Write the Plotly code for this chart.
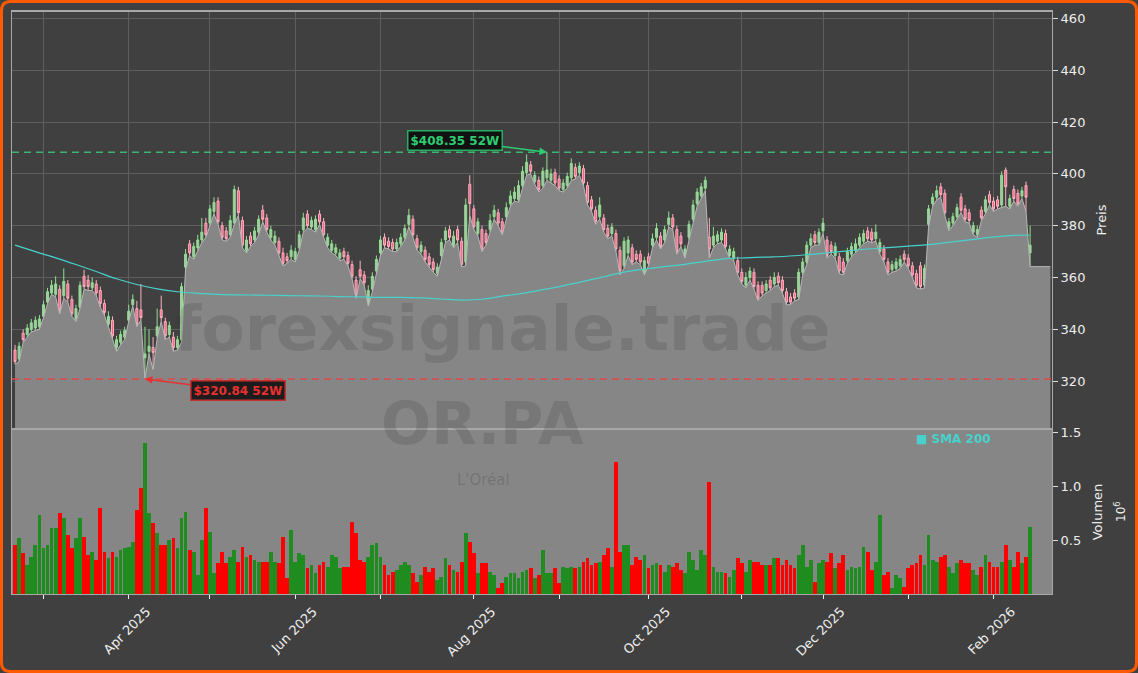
import pandas as pd
import plotly.graph_objects as go

# ---------------- data ----------------
holidays = ["2025-04-18", "2025-04-21", "2025-05-01", "2025-12-25", "2025-12-26", "2026-01-01"]
dates = [d.strftime("%Y-%m-%d") for d in
         pd.bdate_range("2025-02-20", "2026-02-13", freq="C", holidays=holidays)]
tail_dates = ["2026-02-16", "2026-02-17", "2026-02-18", "2026-02-19", "2026-02-20"]
tail_low = [364.2, 364.2, 364.2, 364.2, 364.2]

opens = [332.0, 328.5, 338.5, 338.0, 340.0, 340.5, 341.0, 345.0, 350.5, 354.0,
         353.5, 355.5, 353.0, 357.5, 351.5, 344.0, 348.5, 360.5, 359.0, 356.0,
         357.5, 355.0, 350.0, 342.0, 343.5, 333.0, 335.0, 337.0, 343.5, 349.5,
         348.0, 347.5, 329.0, 331.5, 333.0, 337.5, 347.5, 343.0, 338.0, 337.0,
         333.0, 336.0, 364.0, 373.0, 368.0, 371.5, 374.5, 381.0, 381.0, 385.5,
         389.5, 380.0, 378.0, 376.5, 381.0, 393.5, 382.0, 370.5, 376.0, 374.5,
         377.5, 386.0, 383.0, 375.5, 373.5, 374.0, 369.5, 368.0, 368.0, 367.0,
         371.5, 378.5, 384.5, 379.5, 378.5, 384.5, 381.5, 372.5, 370.5, 369.5,
         367.5, 370.0, 368.5, 365.0, 359.0, 363.0, 361.0, 350.0, 355.5, 362.5,
         369.5, 375.5, 374.0, 373.5, 371.0, 373.0, 375.5, 380.5, 382.5, 375.0,
         370.0, 370.5, 368.0, 366.0, 361.5, 368.5, 374.5, 378.5, 372.5, 378.5,
         374.0, 366.0, 396.0, 386.5, 377.0, 378.5, 377.0, 378.5, 383.5, 385.0,
         381.5, 383.5, 388.5, 390.5, 390.0, 395.5, 400.5, 403.5, 397.0, 397.5,
         395.5, 398.5, 397.5, 400.5, 398.0, 394.0, 395.5, 398.5, 402.5, 400.5,
         402.0, 395.5, 390.0, 386.0, 383.5, 383.0, 379.0, 377.0, 377.0, 370.5,
         364.5, 369.5, 371.5, 369.0, 369.0, 362.0, 368.0, 372.5, 375.5, 376.0,
         374.5, 380.5, 383.0, 378.5, 376.0, 368.5, 375.5, 382.5, 388.5, 391.5,
         394.5, 375.5, 372.5, 374.0, 374.5, 377.0, 368.5, 367.5, 366.5, 362.0,
         357.0, 360.0, 362.0, 357.0, 357.0, 355.0, 359.0, 357.5, 360.5, 359.0,
         354.5, 352.5, 354.0, 352.5, 362.0, 366.0, 372.5, 376.5, 373.5, 378.0,
         374.5, 372.5, 368.5, 368.0, 366.0, 366.5, 369.0, 370.5, 372.5, 374.0,
         378.0, 377.5, 375.0, 370.0, 371.0, 366.0, 363.0, 363.5, 364.5, 369.0,
         367.5, 364.5, 361.5, 364.5, 357.0, 380.5, 388.5, 391.0, 395.0, 392.5,
         379.0, 381.0, 383.5, 391.0, 386.5, 385.0, 377.5, 376.5, 386.0, 385.5,
         392.0, 389.5, 390.0, 388.0, 401.5, 387.5, 394.0, 392.5, 391.5, 395.5,
         369.5]

highs = [334.0, 335.0, 340.0, 342.0, 344.0, 345.0, 345.5, 351.0, 356.0, 359.0,
         360.5, 357.0, 363.5, 359.0, 353.0, 349.5, 358.5, 363.0, 361.0, 360.0,
         359.0, 356.5, 351.5, 347.0, 345.0, 337.5, 339.5, 341.0, 349.5, 353.5,
         351.0, 357.5, 341.0, 340.0, 337.0, 348.0, 353.0, 344.5, 343.0, 339.0,
         337.5, 358.0, 371.0, 374.5, 373.5, 376.5, 383.0, 383.0, 388.0, 391.0,
         391.0, 381.5, 379.5, 384.0, 395.5, 395.0, 383.5, 376.0, 377.5, 379.5,
         384.0, 388.0, 384.5, 380.0, 378.0, 375.5, 371.5, 369.5, 372.5, 371.5,
         378.0, 385.0, 386.0, 383.5, 384.0, 386.0, 383.0, 377.0, 374.5, 373.0,
         371.0, 371.5, 370.0, 366.5, 360.5, 366.5, 362.5, 357.0, 362.0, 368.5,
         376.0, 377.0, 375.5, 375.0, 375.0, 377.0, 380.5, 386.5, 384.0, 376.5,
         374.0, 372.0, 369.5, 367.5, 365.5, 375.0, 379.5, 380.0, 378.0, 380.0,
         375.5, 390.5, 399.5, 388.0, 383.0, 380.0, 378.5, 384.5, 388.0, 386.5,
         383.0, 389.0, 393.5, 395.0, 397.5, 403.0, 407.5, 405.0, 401.0, 399.0,
         402.5, 408.35, 402.0, 402.0, 399.5, 398.0, 400.5, 406.0, 404.0, 404.5,
         403.5, 397.0, 391.5, 387.5, 391.0, 384.5, 380.5, 381.0, 378.5, 372.0,
         375.5, 376.0, 373.0, 370.5, 370.5, 368.0, 369.5, 377.0, 381.0, 377.5,
         380.0, 385.5, 384.5, 380.0, 377.5, 372.5, 382.0, 390.0, 394.5, 396.5,
         399.0, 383.0, 379.5, 378.0, 379.0, 378.5, 372.5, 371.5, 368.0, 363.5,
         362.0, 364.0, 363.5, 358.5, 358.5, 359.0, 360.5, 362.0, 362.0, 360.5,
         356.0, 354.0, 355.5, 363.5, 367.5, 374.0, 377.0, 378.0, 379.0, 383.0,
         376.0, 374.0, 373.5, 369.5, 367.5, 371.5, 373.5, 375.0, 377.0, 378.5,
         379.5, 379.0, 380.5, 375.0, 372.5, 367.5, 366.5, 367.5, 368.5, 370.5,
         369.0, 366.0, 363.0, 366.0, 365.0, 388.0, 392.5, 395.5, 396.5, 394.0,
         383.0, 385.0, 388.5, 392.5, 388.0, 386.5, 381.5, 380.0, 387.5, 391.5,
         393.5, 391.0, 391.5, 401.0, 402.5, 392.0, 395.5, 394.0, 395.0, 397.0,
         380.0]

lows = [326.5, 327.5, 335.0, 337.0, 339.0, 339.5, 340.0, 344.5, 350.0, 353.5,
        352.5, 346.0, 352.0, 350.5, 345.0, 343.0, 348.0, 355.5, 355.0, 355.0,
        353.0, 348.5, 345.5, 341.0, 336.5, 331.5, 334.0, 336.0, 343.0, 349.0,
        341.0, 343.5, 320.84, 330.5, 324.5, 336.5, 343.0, 336.0, 337.0, 331.5,
        332.0, 335.0, 363.0, 368.5, 367.0, 370.5, 373.5, 375.5, 380.0, 384.5,
        380.5, 374.5, 374.0, 375.5, 380.5, 384.0, 371.5, 369.5, 372.0, 373.5,
        376.5, 381.5, 377.5, 374.5, 372.5, 368.5, 364.5, 365.5, 367.0, 366.0,
        370.5, 377.5, 379.0, 378.5, 377.5, 380.5, 375.5, 371.5, 369.5, 368.5,
        366.5, 367.0, 364.5, 359.5, 352.0, 359.5, 357.0, 349.0, 354.5, 361.5,
        368.5, 371.5, 371.0, 370.0, 370.0, 372.0, 374.5, 379.5, 375.5, 370.5,
        369.0, 366.0, 364.0, 362.0, 360.5, 367.5, 373.5, 374.5, 371.5, 373.5,
        364.0, 364.5, 384.0, 378.5, 376.0, 370.0, 372.5, 377.5, 382.5, 380.0,
        376.5, 382.5, 387.5, 389.5, 389.0, 394.5, 399.5, 400.0, 396.0, 393.0,
        394.5, 397.5, 396.5, 395.5, 393.5, 393.0, 394.5, 397.5, 398.0, 399.5,
        395.5, 388.0, 385.5, 380.5, 382.5, 377.5, 375.0, 376.0, 370.0, 361.0,
        363.5, 368.5, 365.0, 366.0, 365.0, 361.0, 364.5, 371.5, 374.5, 371.0,
        373.5, 379.5, 378.5, 369.0, 372.0, 367.5, 374.5, 381.5, 387.5, 390.5,
        393.5, 367.5, 371.5, 373.0, 373.5, 371.0, 367.5, 366.5, 361.0, 357.5,
        356.0, 359.0, 355.5, 351.0, 353.0, 354.0, 355.0, 356.5, 357.0, 354.0,
        349.5, 349.5, 351.0, 351.5, 361.0, 365.0, 371.5, 372.5, 372.5, 377.0,
        367.5, 369.0, 367.5, 361.5, 361.0, 365.5, 368.0, 369.5, 371.5, 373.0,
        374.0, 373.5, 374.0, 369.0, 366.0, 361.0, 362.0, 362.5, 363.5, 366.0,
        363.5, 360.0, 356.0, 355.5, 356.0, 379.5, 387.5, 390.0, 391.0, 384.0,
        378.0, 380.0, 382.5, 385.0, 381.5, 381.0, 376.5, 375.5, 382.0, 384.5,
        388.0, 385.5, 386.5, 387.0, 387.5, 386.5, 389.5, 387.5, 390.5, 385.5,
        364.2]

closes = [327.5, 333.5, 336.0, 340.5, 342.5, 343.5, 344.0, 349.5, 354.5, 357.0,
          357.5, 347.5, 358.5, 352.0, 346.0, 348.0, 357.0, 356.5, 356.5, 358.0,
          354.0, 350.0, 346.5, 345.0, 337.5, 336.0, 338.0, 339.5, 347.0, 351.5,
          342.0, 344.5, 330.5, 333.5, 331.0, 341.0, 344.5, 337.5, 341.5, 333.0,
          336.0, 356.5, 369.0, 369.5, 372.0, 374.5, 377.5, 376.5, 386.5, 389.0,
          381.5, 375.5, 375.0, 382.0, 394.0, 385.0, 372.5, 374.5, 373.0, 378.0,
          382.5, 382.5, 378.5, 378.5, 376.0, 369.5, 365.5, 366.5, 370.5, 370.0,
          376.5, 383.0, 380.0, 382.0, 382.5, 381.5, 376.5, 375.5, 373.0, 371.5,
          369.5, 368.0, 365.5, 360.5, 353.5, 360.5, 358.0, 355.0, 360.5, 367.0,
          374.5, 372.5, 372.0, 371.0, 373.5, 375.5, 379.0, 384.0, 376.5, 371.5,
          372.5, 367.0, 365.0, 363.0, 364.0, 373.5, 378.0, 375.5, 376.0, 374.5,
          365.0, 388.0, 388.5, 379.5, 381.5, 371.0, 373.5, 382.0, 386.0, 381.0,
          377.5, 387.0, 391.5, 393.0, 395.5, 401.0, 404.5, 401.0, 399.5, 394.0,
          401.0, 401.5, 400.0, 396.5, 394.5, 396.5, 399.0, 404.0, 399.0, 403.0,
          396.5, 389.0, 386.5, 381.5, 388.0, 378.5, 376.0, 379.5, 371.0, 362.5,
          374.0, 374.5, 366.0, 367.0, 366.0, 366.5, 365.5, 375.0, 379.0, 372.0,
          378.5, 383.0, 379.5, 370.0, 373.0, 371.0, 380.5, 388.0, 393.0, 395.0,
          397.5, 371.0, 376.0, 376.5, 377.5, 372.0, 371.0, 370.0, 362.0, 358.5,
          360.0, 362.5, 356.5, 352.0, 354.0, 357.5, 356.0, 360.0, 358.0, 355.0,
          350.5, 350.5, 352.0, 362.0, 366.0, 372.5, 375.0, 373.5, 377.5, 381.0,
          368.5, 370.0, 372.0, 362.5, 362.0, 370.0, 372.0, 373.0, 375.5, 377.0,
          375.0, 374.5, 377.5, 373.5, 367.0, 362.0, 365.0, 366.0, 367.0, 367.0,
          364.5, 361.0, 357.0, 356.5, 363.5, 386.5, 391.0, 393.5, 392.0, 385.0,
          381.5, 383.5, 387.0, 386.0, 382.5, 382.0, 380.0, 378.5, 383.0, 390.0,
          389.0, 386.5, 387.5, 399.5, 395.0, 390.5, 390.5, 388.5, 393.5, 391.0,
          372.5]

volume_m = [0.463, 0.524, 0.386, 0.279, 0.355, 0.463, 0.739, 0.432, 0.463, 0.616,
            0.616, 0.754, 0.708, 0.555, 0.432, 0.524, 0.708, 0.539, 0.371, 0.401,
            0.325, 0.800, 0.401, 0.340, 0.401, 0.355, 0.417, 0.432, 0.447, 0.493,
            0.785, 0.984, 1.398, 0.754, 0.662, 0.570, 0.463, 0.463, 0.509, 0.524,
            0.432, 0.708, 0.769, 0.417, 0.401, 0.187, 0.509, 0.800, 0.585, 0.202,
            0.294, 0.401, 0.294, 0.355, 0.417, 0.309, 0.447, 0.355, 0.371, 0.325,
            0.309, 0.309, 0.309, 0.401, 0.309, 0.294, 0.539, 0.156, 0.601, 0.309,
            0.386, 0.371, 0.248, 0.279, 0.202, 0.279, 0.309, 0.263, 0.371, 0.355,
            0.248, 0.263, 0.263, 0.677, 0.570, 0.325, 0.309, 0.355, 0.463, 0.478,
            0.355, 0.279, 0.187, 0.217, 0.233, 0.279, 0.309, 0.279, 0.202, 0.125,
            0.187, 0.263, 0.217, 0.248, 0.141, 0.171, 0.340, 0.279, 0.233, 0.217,
            0.309, 0.570, 0.493, 0.386, 0.202, 0.294, 0.294, 0.217, 0.187, 0.064,
            0.110, 0.171, 0.202, 0.202, 0.156, 0.217, 0.233, 0.248, 0.156, 0.187,
            0.417, 0.202, 0.202, 0.248, 0.110, 0.263, 0.248, 0.263, 0.248, 0.263,
            0.309, 0.340, 0.279, 0.294, 0.309, 0.371, 0.432, 0.263, 1.229, 0.401,
            0.463, 0.463, 0.279, 0.355, 0.325, 0.371, 0.248, 0.279, 0.294, 0.279,
            0.217, 0.279, 0.263, 0.294, 0.233, 0.202, 0.401, 0.325, 0.233, 0.417,
            0.371, 1.045, 0.263, 0.217, 0.217, 0.202, 0.171, 0.233, 0.340, 0.294,
            0.217, 0.325, 0.309, 0.309, 0.279, 0.279, 0.279, 0.340, 0.340, 0.279,
            0.325, 0.279, 0.248, 0.371, 0.463, 0.263, 0.325, 0.125, 0.294, 0.325,
            0.309, 0.386, 0.248, 0.294, 0.371, 0.233, 0.263, 0.248, 0.263, 0.447,
            0.401, 0.233, 0.309, 0.739, 0.187, 0.217, 0.064, 0.187, 0.156, 0.079,
            0.248, 0.279, 0.294, 0.371, 0.279, 0.555, 0.325, 0.309, 0.355, 0.371,
            0.263, 0.202, 0.294, 0.325, 0.294, 0.294, 0.233, 0.187, 0.263, 0.371,
            0.309, 0.263, 0.263, 0.309, 0.463, 0.325, 0.263, 0.401, 0.294, 0.355,
            0.631]

sma_idx = list(range(0, 251, 5))
sma200 = [372.5, 370.0, 367.6, 365.0, 362.3, 359.5, 357.3, 355.6, 354.5, 353.9,
          353.5, 353.3, 353.2, 353.1, 352.95, 352.85, 352.65, 352.5, 352.3, 352.3,
          352.1, 351.7, 351.3, 351.6, 352.8, 353.9, 355.3, 356.8, 358.5, 360.3,
          362.1, 363.2, 364.2, 365.1, 366.2, 367.3, 367.6, 367.9, 368.2, 368.8,
          369.5, 370.3, 371.0, 371.5, 372.1, 372.7, 373.6, 374.5, 375.5, 376.2,
          376.4]

high_52w = 408.35
low_52w = 320.84
high_idx = 131
low_idx = 32

month_labels = ["", "Apr 2025", "", "Jun 2025", "", "Aug 2025", "", "Oct 2025",
                "", "Dec 2025", "", "Feb 2026"]

# ---------------- layout helpers ----------------
W, H = 1138, 673
ML, MR, MT, MB = 12, 86, 12, 79
PW, PH = W - ML - MR, H - MT - MB


def px(x):
    return (x - ML) / PW


def py(y):
    return (H - MB - y) / PH


BG = "#404040"
FILL = "#868686"
TXT = "#eeeeee"
FONT = "DejaVu Sans"

sma_dates = [dates[i] for i in sma_idx]
month_firsts = []
seen = set()
for d in dates:
    key = d[:7]
    if key not in seen and key >= "2025-03":
        seen.add(key)
        month_firsts.append(d)

vol_colors = ["#1f8c1f" if c >= o else "#ff0000" for o, c in zip(opens, closes)]
candle_style = dict(
    increasing=dict(line=dict(color="#8fe08f", width=1), fillcolor="rgba(215,235,215,0.75)"),
    decreasing=dict(line=dict(color="#ffb0c0", width=1), fillcolor="#f0607f"),
)

fig = go.Figure()

fig.add_trace(go.Scatter(
    x=dates[:-1] + [dates[-1]] + tail_dates, y=lows + tail_low,
    xaxis="x", yaxis="y", mode="lines", fill="tozeroy",
    line=dict(color="#b8b8b8", width=1), fillcolor=FILL,
    showlegend=False, hoverinfo="skip"))

fig.add_trace(go.Candlestick(
    x=dates, open=opens, high=highs, low=lows, close=closes,
    xaxis="x", yaxis="y", whiskerwidth=0, showlegend=False, name="OR.PA",
    **candle_style))

fig.add_trace(go.Scatter(
    x=sma_dates, y=sma200, xaxis="x", yaxis="y", mode="lines",
    line=dict(color="#48d1cc", width=1.2, shape="spline"), name="SMA 200", showlegend=False))

fig.add_trace(go.Bar(
    x=dates, y=volume_m, xaxis="x2", yaxis="y2",
    marker=dict(color=vol_colors, line=dict(width=0)), width=0.92, showlegend=False))

xr = [-0.75, 255.4]
fig.update_layout(
    width=W, height=H, margin=dict(l=ML, r=MR, t=MT, b=MB, autoexpand=False),
    paper_bgcolor=BG, plot_bgcolor=BG,
    font=dict(family=FONT, size=13, color=TXT),
    showlegend=False, bargap=0,
    xaxis=dict(domain=[0, 1], type="category", range=xr, anchor="y", automargin=False,
               categoryorder="array", categoryarray=dates + tail_dates,
               rangeslider=dict(visible=False), showticklabels=False,
               tickvals=month_firsts, ticks="",
               showgrid=True, gridcolor="#5e5e5e", gridwidth=1,
               showline=True, mirror=True, linecolor="#a8a8a8", linewidth=1.5,
               zeroline=False),
    yaxis=dict(domain=[py(428), 1], side="right", range=[301.9, 462.5], automargin=False,
               tickvals=[320, 340, 360, 380, 400, 420, 440, 460],
               ticks="outside", ticklen=5, tickcolor="#dddddd",
               showgrid=True, gridcolor="#5e5e5e", gridwidth=1,
               showline=True, mirror=True, linecolor="#a8a8a8", linewidth=1,
               zeroline=False,
               title=dict(text="Preis", standoff=12, font=dict(size=13, color=TXT))),
    xaxis2=dict(domain=[0, 1], type="category", range=xr, anchor="y2", matches="x",
                automargin=False,
                tickvals=month_firsts, ticktext=month_labels, tickangle=-45,
                ticklabelshift=18, ticks="outside", ticklen=4, tickcolor="#eeeeee",
                showgrid=False, showline=True, mirror=True,
                linecolor="#a8a8a8", linewidth=1, zeroline=False,
                tickfont=dict(size=13, color=TXT)),
    yaxis2=dict(domain=[0, py(430)], side="right", range=[0.012, 1.52], automargin=False,
                tickvals=[0.5, 1.0, 1.5], ticktext=["0.5", "1.0", "1.5"],
                ticks="outside", ticklen=5, tickcolor="#dddddd",
                showgrid=False, showline=True, mirror=True,
                linecolor="#a8a8a8", linewidth=1, zeroline=False,
                title=dict(text="Volumen", standoff=12, font=dict(size=13, color=TXT))),
)

shapes = [
    dict(type="rect", xref="x2 domain", yref="y2 domain", x0=0, x1=1, y0=0, y1=1,
         fillcolor=FILL, line=dict(width=0), layer="below"),
    dict(type="line", xref="x domain", yref="y", x0=0, x1=1, y0=high_52w, y1=high_52w,
         line=dict(color="#3cb371", width=1.5, dash="7px,5px")),
    dict(type="line", xref="x domain", yref="y", x0=0, x1=1, y0=low_52w, y1=low_52w,
         line=dict(color="#e04848", width=1.5, dash="7px,5px")),
]

# orange rounded border around the whole figure
r = 9
L0, R0, T0, B0 = 1.5, W - 1.5, 1.5, H - 1.5
path = (f"M {px(L0 + r)},{py(T0)} L {px(R0 - r)},{py(T0)} "
        f"Q {px(R0)},{py(T0)} {px(R0)},{py(T0 + r)} "
        f"L {px(R0)},{py(B0 - r)} Q {px(R0)},{py(B0)} {px(R0 - r)},{py(B0)} "
        f"L {px(L0 + r)},{py(B0)} Q {px(L0)},{py(B0)} {px(L0)},{py(B0 - r)} "
        f"L {px(L0)},{py(T0 + r)} Q {px(L0)},{py(T0)} {px(L0 + r)},{py(T0)} Z")
shapes.append(dict(type="path", xref="paper", yref="paper", path=path,
                   line=dict(color="#ff5a00", width=3), fillcolor="rgba(0,0,0,0)", layer="above"))
fig.update_layout(shapes=shapes)

annotations = [
    dict(x=px(502), y=py(328), xref="paper", yref="paper", text="forexsignale.trade",
         showarrow=False, font=dict(family=FONT, size=63, color="rgba(50,50,50,0.17)", weight="bold")),
    dict(x=px(482), y=py(460), xref="paper", yref="paper", text="OR.PA",
         showarrow=False, font=dict(family=FONT, size=59, color="rgba(50,50,50,0.17)", weight="bold")),
    dict(x=px(483), y=py(491), xref="paper", yref="paper", text="L'Oréal",
         showarrow=False, font=dict(family=FONT, size=15, color="rgba(50,50,50,0.22)")),
    dict(x=px(953), y=py(439), xref="paper", yref="paper", text="■ SMA 200",
         xanchor="center", yanchor="middle",
         showarrow=False, font=dict(family=FONT, size=12, color="#48d1cc", weight="bold")),
    dict(x=px(1120), y=py(512), xref="paper", yref="paper", text="10<sup>6</sup>",
         xanchor="center", yanchor="middle",
         showarrow=False, textangle=-90, font=dict(family=FONT, size=12, color=TXT)),
    dict(x=dates[high_idx], y=high_52w, xref="x", yref="y", text=f"${high_52w:.2f} 52W",
         showarrow=True, ax=-92, ay=-12, arrowhead=2, arrowsize=1, arrowwidth=1.5,
         arrowcolor="#2ecc71", standoff=0,
         font=dict(family=FONT, size=12, color="#2ecc71", weight="bold"),
         bgcolor="#111111", bordercolor="#27ae60", borderwidth=1.5, borderpad=2),
    dict(x=dates[low_idx], y=low_52w, xref="x", yref="y", text=f"${low_52w:.2f} 52W",
         showarrow=True, ax=93, ay=12, arrowhead=2, arrowsize=1, arrowwidth=1.5,
         arrowcolor="#e83030", standoff=0,
         font=dict(family=FONT, size=12, color="#e83030", weight="bold"),
         bgcolor="#1c1c1c", bordercolor="#c83030", borderwidth=1.5, borderpad=2),
]
fig.update_layout(annotations=annotations)

fig.write_html("out.html", config={"displayModeBar": False},
               post_script="document.body.style.margin='0';document.body.style.overflow='hidden';")
